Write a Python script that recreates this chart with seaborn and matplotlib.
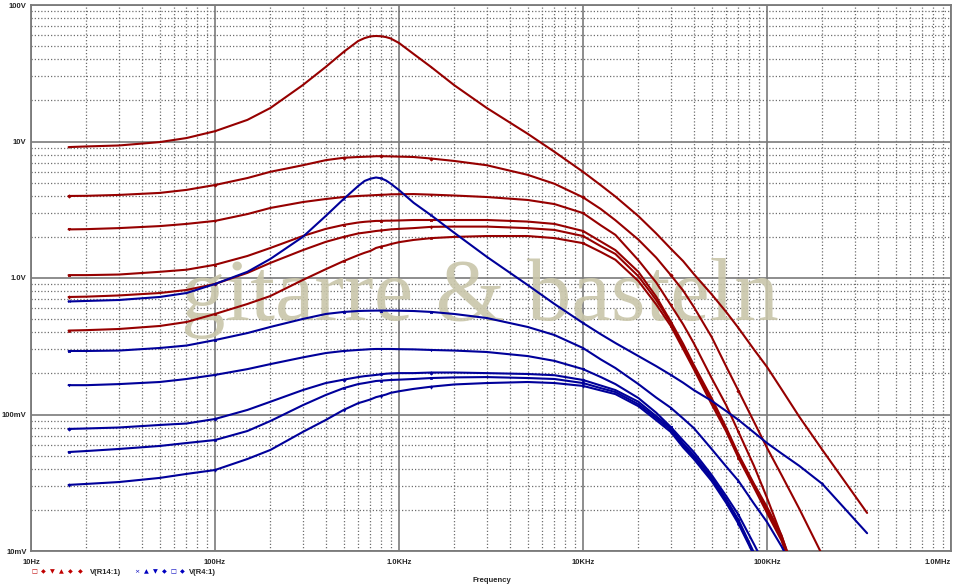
import numpy as np
import pandas as pd
import matplotlib
matplotlib.use("Agg")
import matplotlib.pyplot as plt
from matplotlib.ticker import FixedLocator, LogLocator, NullFormatter
import seaborn as sns

nan = np.nan

# frequency grid in Hz (common to all traces)
freq = [16, 20, 30, 50, 70, 100, 150, 200, 300, 400,
        500, 600, 650, 700, 750, 800, 850, 900, 1000, 1200,
        1500, 2000, 3000, 5000, 7000, 10e3, 12.5e3, 15e3, 20e3, 25e3,
        30e3, 35e3, 40e3, 50e3, 60e3, 70e3, 85e3, 100e3, 120e3, 150e3,
        200e3, 350e3]

# V(R14:1) traces, volts
r14_1 = [9.1, 9.2, 9.35, 9.9, 10.6, 11.9, 14.4, 17.6, 25.9, 35.2,
         45.3, 54.5, 57.2, 58.9, 59.3, 59.0, 58.2, 56.9, 52.7, 43.8,
         35.0, 25.8, 17.6, 11.4, 8.4, 6.0, 4.78, 3.95, 2.84, 2.12,
         1.64, 1.33, 1.07, 0.76, 0.564, 0.43, 0.299, 0.223, 0.153, 0.096,
         0.055, 0.019]
r14_2 = [3.99, 4.0, 4.06, 4.2, 4.42, 4.8, 5.4, 6.0, 6.7, 7.3,
         7.6, 7.7, 7.73, 7.76, 7.8, 7.8, 7.79, 7.78, 7.75, 7.7,
         7.5, 7.2, 6.7, 5.7, 4.9, 3.9, 3.2, 2.65, 1.91, 1.41,
         1.05, 0.81, 0.614, 0.37, 0.225, 0.149, 0.0883, 0.057, 0.036, 0.0203,
         0.0093, nan]
r14_3 = [2.27, 2.28, 2.32, 2.40, 2.49, 2.62, 2.94, 3.26, 3.60, 3.79,
         3.92, 3.99, 4.01, 4.03, 4.05, 4.07, 4.08, 4.1, 4.11, 4.12,
         4.08, 4.02, 3.92, 3.73, 3.48, 2.99, 2.43, 2.07, 1.35, 0.927,
         0.634, 0.458, 0.333, 0.185, 0.117, 0.0745, 0.042, 0.0245, 0.0129, 0.0056,
         nan, nan]
r14_4 = [1.05, 1.05, 1.06, 1.11, 1.15, 1.25, 1.45, 1.66, 2.03, 2.29,
         2.45, 2.55, 2.58, 2.60, 2.62, 2.62, 2.63, 2.63, 2.64, 2.66,
         2.66, 2.66, 2.66, 2.59, 2.49, 2.21, 1.85, 1.60, 1.11, 0.73,
         0.48, 0.33, 0.231, 0.132, 0.08, 0.051, 0.031, 0.021, 0.013, 0.0052,
         nan, nan]
r14_5 = [0.726, 0.73, 0.745, 0.776, 0.817, 0.904, 1.09, 1.29, 1.60, 1.84,
         2.0, 2.12, 2.15, 2.18, 2.21, 2.23, 2.25, 2.27, 2.29, 2.32,
         2.37, 2.38, 2.38, 2.32, 2.25, 2.03, 1.71, 1.50, 1.03, 0.69,
         0.468, 0.313, 0.223, 0.126, 0.078, 0.0497, 0.0303, 0.020, 0.0125, 0.005,
         nan, nan]
r14_6 = [0.412, 0.415, 0.423, 0.445, 0.476, 0.545, 0.645, 0.738, 0.967, 1.16,
         1.33, 1.47, 1.53, 1.58, 1.66, 1.70, 1.73, 1.77, 1.83, 1.90,
         1.96, 2.0, 2.03, 2.03, 1.96, 1.80, 1.55, 1.36, 0.95, 0.64,
         0.445, 0.302, 0.215, 0.119, 0.0752, 0.048, 0.0291, 0.019, 0.0119, 0.005,
         nan, nan]

# V(R4:1) traces, volts
r4_1 = [0.673, 0.679, 0.690, 0.726, 0.776, 0.904, 1.11, 1.38, 2.0, 2.85,
        3.79, 4.72, 5.14, 5.34, 5.45, 5.37, 5.18, 4.92, 4.41, 3.56,
        2.87, 2.14, 1.43, 0.889, 0.645, 0.468, 0.387, 0.334, 0.268, 0.226,
        0.195, 0.171, 0.151, 0.126, 0.106, 0.0912, 0.0738, 0.0618, 0.0518, 0.042,
        0.031, 0.0135]
r4_2 = [0.292, 0.292, 0.294, 0.307, 0.320, 0.351, 0.395, 0.438, 0.501, 0.545,
        0.564, 0.573, 0.575, 0.576, 0.577, 0.577, 0.577, 0.577, 0.576, 0.573,
        0.564, 0.545, 0.509, 0.438, 0.382, 0.307, 0.253, 0.219, 0.167, 0.133,
        0.112, 0.0935, 0.0796, 0.0559, 0.0416, 0.0326, 0.0222, 0.0163, 0.0108, 0.006,
        nan, nan]
r4_3 = [0.164, 0.164, 0.167, 0.173, 0.182, 0.195, 0.215, 0.234, 0.262, 0.282,
        0.292, 0.297, 0.299, 0.301, 0.302, 0.302, 0.302, 0.302, 0.301, 0.300,
        0.297, 0.294, 0.287, 0.268, 0.247, 0.215, 0.188, 0.167, 0.132, 0.103,
        0.081, 0.0644, 0.0531, 0.0361, 0.0253, 0.0184, 0.0112, 0.0073, nan, nan,
        nan, nan]
r4_4 = [0.0784, 0.079, 0.0803, 0.0838, 0.0859, 0.0927, 0.108, 0.124, 0.151, 0.170,
        0.180, 0.188, 0.191, 0.193, 0.195, 0.197, 0.199, 0.200, 0.201, 0.201,
        0.203, 0.203, 0.201, 0.198, 0.194, 0.179, 0.163, 0.151, 0.124, 0.0972,
        0.0796, 0.0614, 0.0505, 0.0348, 0.024, 0.0169, 0.0097, 0.0061, nan, nan,
        nan, nan]
r4_5 = [0.0531, 0.054, 0.0559, 0.0588, 0.0618, 0.065, 0.0757, 0.0896, 0.117, 0.139,
        0.156, 0.167, 0.170, 0.173, 0.176, 0.177, 0.178, 0.179, 0.180, 0.182,
        0.185, 0.187, 0.188, 0.185, 0.182, 0.170, 0.156, 0.146, 0.119, 0.0941,
        0.077, 0.0595, 0.0488, 0.0337, 0.0232, 0.0163, 0.0095, 0.006, nan, nan,
        nan, nan]
r4_6 = [0.0305, 0.031, 0.032, 0.0343, 0.0367, 0.0392, 0.0472, 0.055, 0.0745, 0.0912,
        0.108, 0.121, 0.125, 0.129, 0.134, 0.137, 0.140, 0.144, 0.148, 0.154,
        0.160, 0.166, 0.170, 0.173, 0.170, 0.162, 0.150, 0.141, 0.115, 0.0908,
        0.0745, 0.0574, 0.0472, 0.0326, 0.0225, 0.0158, 0.0093, 0.006, nan, nan,
        nan, nan]

x_ticks = [10, 100, 1e3, 10e3, 100e3, 1e6]
x_labels = ["10Hz", "100Hz", "1.0KHz", "10KHz", "100KHz", "1.0MHz"]
y_ticks = [0.01, 0.1, 1, 10, 100]
y_labels = ["10mV", "100mV", "1.0V", "10V", "100V"]

RED = "#960000"
BLUE = "#00009a"
LABEL_FONT = "Liberation Sans"

sns.set_style("white")
plt.rcParams["font.family"] = ["DejaVu Sans"]

fig = plt.figure(figsize=(9.6, 5.84), dpi=100)
ax = fig.add_axes([31 / 960, 1 - 551 / 584, 920 / 960, 546 / 584])

red_traces = [r14_1, r14_2, r14_3, r14_4, r14_5, r14_6]
blue_traces = [r4_1, r4_2, r4_3, r4_4, r4_5, r4_6]
red_marks = ["+", "D", "v", "^", "d", "s"]
blue_marks = ["x", "^", "v", "D", "s", "d"]

for traces, marks, col in [(red_traces, red_marks, RED), (blue_traces, blue_marks, BLUE)]:
    for vals, mk in zip(traces, marks):
        df = pd.DataFrame({"freq": freq, "volt": vals}).dropna()
        sns.lineplot(data=df, x="freq", y="volt", ax=ax, color=col, lw=1.5,
                     marker=mk, markersize=1.7, markevery=5, markeredgewidth=0.5,
                     markeredgecolor=col, markerfacecolor=col, zorder=3)

ax.set_xscale("log")
ax.set_yscale("log")
ax.set_xlim(10, 1e6)
ax.set_ylim(0.01, 100)

ax.xaxis.set_major_locator(FixedLocator(x_ticks))
ax.set_xticklabels(x_labels)
ax.yaxis.set_major_locator(FixedLocator(y_ticks))
ax.set_yticklabels(y_labels)
ax.xaxis.set_minor_locator(LogLocator(base=10, subs=np.arange(2, 10)))
ax.yaxis.set_minor_locator(LogLocator(base=10, subs=np.arange(2, 10)))
ax.xaxis.set_minor_formatter(NullFormatter())
ax.yaxis.set_minor_formatter(NullFormatter())

ax.set_axisbelow(True)
ax.grid(True, which="major", color="#7a7a7a", lw=1.2, ls="-")
ax.grid(True, which="minor", color="#6e6e6e", lw=0.9, ls=(0, (1, 1.6)))
for sp in ax.spines.values():
    sp.set_color("#7a7a7a")
    sp.set_linewidth(1.3)

ax.tick_params(axis="both", which="major", length=2, width=1, color="#7a7a7a",
               labelsize=5.5, pad=1.2)
ax.tick_params(axis="x", which="major", pad=3.5)
ax.tick_params(axis="both", which="minor", length=0)
for lab in ax.get_xticklabels() + ax.get_yticklabels():
    lab.set_fontweight("bold")
    lab.set_family(LABEL_FONT)
ax.get_xticklabels()[-1].set_horizontalalignment("right")
ax.set_xlabel("")
ax.set_ylabel("")

# watermark
ax.text(480 / 960, 1 - 320 / 584, "gitarre & basteln", transform=fig.transFigure,
        ha="center", va="baseline", fontsize=64, family="Liberation Serif",
        color="#c9c6aa", alpha=0.9, zorder=2)

# PSpice style legend row
leg_y = 1 - 572 / 584
red_glyphs = ["□", "◆", "▼", "▲", "◆", "◆"]
blue_glyphs = ["×", "▲", "▼", "◆", "□", "◆"]
for i, g in enumerate(red_glyphs):
    fig.text((34 + i * 9.2) / 960, leg_y, g, color="#c00000", fontsize=4.5,
             ha="center", va="center")
fig.text(90 / 960, leg_y, "V(R14:1)", fontsize=5.5, fontweight="bold",
         family=LABEL_FONT, ha="left", va="center")
for i, g in enumerate(blue_glyphs):
    fig.text((137 + i * 9.0) / 960, leg_y, g, color="#0000c0", fontsize=4.5,
             ha="center", va="center")
fig.text(189 / 960, leg_y, "V(R4:1)", fontsize=5.5, fontweight="bold",
         family=LABEL_FONT, ha="left", va="center")
fig.text(492 / 960, 1 - 580 / 584, "Frequency", fontsize=5.5, fontweight="bold",
         family=LABEL_FONT, ha="center", va="center")

fig.savefig("out.png", dpi=100, facecolor="white")
